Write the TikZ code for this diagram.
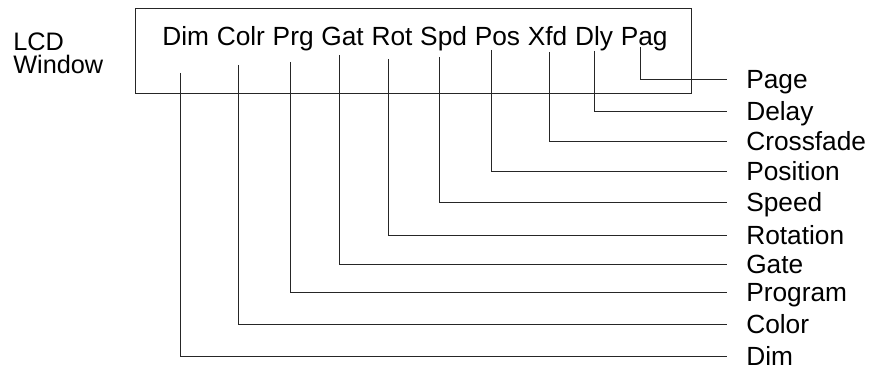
\documentclass[tikz,border=0pt]{standalone}
\usepackage{fontspec}
\setmainfont{Liberation Sans}
\usetikzlibrary{positioning}

\begin{document}
\begin{tikzpicture}[
  abbr/.style={inner sep=0pt, font=\fontsize{18.7}{22}\selectfont},
  lbl/.style={anchor=west, inner xsep=0.475cm, inner ysep=0pt,
              text height=13.4pt, text depth=0pt, font=\fontsize{18.7}{22}\selectfont},
  lead/.style={line width=0.7pt, color=black!85},
  win/.style={draw=black!85, line width=0.7pt, inner sep=0pt,
              minimum width=13.9cm, minimum height=2.125cm},
]
\useasboundingbox (0,0) rectangle (21.8,-9.25);

\node[anchor=base west, align=left, inner sep=0pt,
      font=\fontsize{18}{17}\selectfont] (lcd) at (0.325,-1.85) {LCD\\Window};
\node[win] (box) at (10.325,-1.2625) {};

\node[abbr, anchor=base west] (dim) at (4.05,-1.15) {Dim};
\node[abbr, base right=0.18cm of dim]  (colr) {Colr};
\node[abbr, base right=0.18cm of colr] (prg)  {Prg};
\node[abbr, base right=0.18cm of prg]  (gat)  {Gat};
\node[abbr, base right=0.18cm of gat]  (rot)  {Rot};
\node[abbr, base right=0.18cm of rot]  (spd)  {Spd};
\node[abbr, base right=0.18cm of spd]  (pos)  {Pos};
\node[abbr, base right=0.18cm of pos]  (xfd)  {Xfd};
\node[abbr, base right=0.18cm of xfd]  (dly)  {Dly};
\node[abbr, base right=0.18cm of dly]  (pag)  {Pag};

\node[lbl] (lpage)  at (18.175,-1.975)  {Page};
\node[lbl] (ldelay) at (18.175,-2.775)  {Delay};
\node[lbl] (lxfade) at (18.175,-3.5375) {Crossfade};
\node[lbl] (lpos)   at (18.175,-4.275)  {Position};
\node[lbl] (lspeed) at (18.175,-5.0625) {Speed};
\node[lbl] (lrot)   at (18.175,-5.8875) {Rotation};
\node[lbl] (lgate)  at (18.175,-6.6125) {Gate};
\node[lbl] (lprog)  at (18.175,-7.3)    {Program};
\node[lbl] (lcolor) at (18.175,-8.1)    {Color};
\node[lbl] (ldim)   at (18.175,-8.9)    {Dim};

\draw[lead] ([shift={(-0.09,-0.025)}]pag.base)  |- (lpage.west);
\draw[lead] ([shift={(0.01,-0.125)}]dly.base)   |- (ldelay.west);
\draw[lead] ([shift={(0.04,-0.15)}]xfd.base)    |- (lxfade.west);
\draw[lead] ([shift={(-0.14,-0.1)}]pos.base)    |- (lpos.west);
\draw[lead] ([shift={(-0.1,-0.275)}]spd.base)   |- (lspeed.west);
\draw[lead] ([shift={(-0.09,-0.325)}]rot.base)  |- (lrot.west);
\draw[lead] ([shift={(-0.09,-0.225)}]gat.base)  |- (lgate.west);
\draw[lead] ([shift={(-0.075,-0.4)}]prg.base)   |- (lprog.west);
\draw[lead] ([shift={(-0.05,-0.475)}]colr.base) |- (lcolor.west);
\draw[lead] ([shift={(-0.125,-0.675)}]dim.base) |- (ldim.west);
\end{tikzpicture}
\end{document}
